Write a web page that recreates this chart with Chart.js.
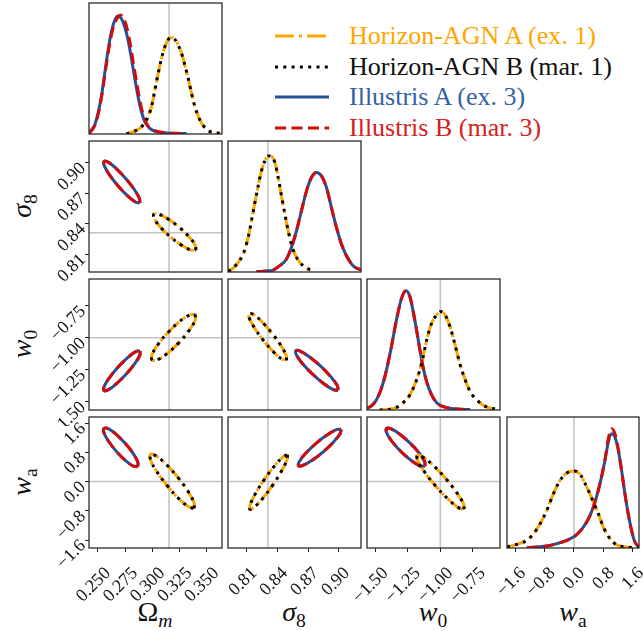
<!DOCTYPE html>
<html>
<head>
<meta charset="utf-8">
<title>Corner plot</title>
<script src="https://cdn.jsdelivr.net/npm/chart.js@4.4.1/dist/chart.umd.min.js"></script>
<style>
  html, body { margin: 0; padding: 0; background: #fff; }
  #wrap { position: relative; width: 643px; height: 631px; overflow: hidden; font-family: "Liberation Serif", "DejaVu Serif", serif; color: #111; }
  #wrap canvas { position: absolute; }
  .xtitle, .ytitle { position: absolute; width: 120px; height: 28px; text-align: center; font-size: 28px; line-height: 28px; }
  .ytitle { transform: rotate(-90deg); }
  sub { font-size: 70%; vertical-align: baseline; position: relative; top: 0.3em; }
  .leg { position: absolute; left: 273px; width: 370px; height: 30px; line-height: 30px; font-size: 26px; white-space: nowrap; }
  .leg svg { position: absolute; left: 0; top: 0; }
  .leg span { position: absolute; left: 76px; top: 0; }
</style>
</head>
<body>
<div id="wrap">
  <div class="leg" style="top:21px"><svg width="60" height="30"><line x1="2" y1="15" x2="56" y2="15" stroke="#ffa500" stroke-width="3" stroke-dasharray="19 5 3 5"/></svg><span style="color:#ffa500">Horizon-AGN A (ex. 1)</span></div>
  <div class="leg" style="top:52px"><svg width="60" height="30"><line x1="2" y1="15" x2="56" y2="15" stroke="#000" stroke-width="3" stroke-dasharray="3 5.3"/></svg><span style="color:#111">Horizon-AGN B (mar. 1)</span></div>
  <div class="leg" style="top:82px"><svg width="60" height="30"><line x1="2" y1="15" x2="56" y2="15" stroke="#24509a" stroke-width="3"/></svg><span style="color:#3461a6">Illustris A (ex. 3)</span></div>
  <div class="leg" style="top:113px"><svg width="60" height="30"><line x1="2" y1="15" x2="56" y2="15" stroke="#d00d0d" stroke-width="3" stroke-dasharray="11 5.5"/></svg><span style="color:#d42020">Illustris B (mar. 3)</span></div>

  <div class="xtitle" style="left:95px; top:598px">Ω<sub><i>m</i></sub></div>
  <div class="xtitle" style="left:234px; top:598px"><i>σ</i><sub>8</sub></div>
  <div class="xtitle" style="left:373px; top:598px"><i>w</i><sub>0</sub></div>
  <div class="xtitle" style="left:513px; top:598px"><i>w</i><sub>a</sub></div>

  <div class="ytitle" style="left:-38px; top:192px"><i>σ</i><sub>8</sub></div>
  <div class="ytitle" style="left:-38px; top:330px"><i>w</i><sub>0</sub></div>
  <div class="ytitle" style="left:-38px; top:468px"><i>w</i><sub>a</sub></div>
</div>
<script>
// axis limits and truth values
const omegaRange = [0.2417, 0.3645];
const sigma8Range = [0.7923, 0.9214];
const w0Range = [-1.565, -0.54];
const waRange = [-1.818, 1.765];

const omegaTruth = 0.3156;
const sigma8Truth = 0.831;
const w0Truth = -1.0;
const waTruth = 0.0;

// ticks
const omegaTicks = [0.250, 0.275, 0.300, 0.325, 0.350];
const omegaLabels = ['0.250', '0.275', '0.300', '0.325', '0.350'];
const sigma8Ticks = [0.81, 0.84, 0.87, 0.90];
const sigma8Labels = ['0.81', '0.84', '0.87', '0.90'];
const w0Ticks = [-1.50, -1.25, -1.00, -0.75];
const w0Labels = ['\u22121.50', '\u22121.25', '\u22121.00', '\u22120.75'];
const waTicks = [-1.6, -0.8, 0.0, 0.8, 1.6];
const waLabels = ['\u22121.6', '\u22120.8', '0.0', '0.8', '1.6'];

// 1D marginals [x, density (scaled)]
const omega1DHzn = [[0.2763,0.000],[0.2824,0.018],[0.2886,0.043],[0.2948,0.107],[0.2994,0.208],[0.3025,0.335],[0.3056,0.462],[0.3086,0.576],[0.3117,0.665],[0.3148,0.721],[0.3179,0.736],[0.3210,0.721],[0.3241,0.678],[0.3272,0.614],[0.3302,0.525],[0.3333,0.424],[0.3364,0.310],[0.3395,0.208],[0.3441,0.107],[0.3487,0.048],[0.3534,0.018],[0.3626,0.005]];
const omega1DIll = [[0.2417,0.010],[0.2469,0.069],[0.2500,0.157],[0.2531,0.284],[0.2562,0.462],[0.2593,0.640],[0.2624,0.779],[0.2655,0.868],[0.2685,0.901],[0.2716,0.881],[0.2747,0.817],[0.2778,0.716],[0.2809,0.576],[0.2840,0.424],[0.2870,0.284],[0.2901,0.170],[0.2932,0.094],[0.2978,0.043],[0.3040,0.018],[0.3133,0.008],[0.3318,0.003]];
const omega1DIllB = [[0.2417,0.005],[0.2469,0.061],[0.2500,0.145],[0.2531,0.272],[0.2562,0.442],[0.2593,0.614],[0.2624,0.754],[0.2655,0.848],[0.2685,0.893],[0.2707,0.909],[0.2738,0.881],[0.2769,0.805],[0.2800,0.678],[0.2830,0.525],[0.2861,0.373],[0.2892,0.234],[0.2923,0.132],[0.2963,0.061],[0.3025,0.025],[0.3133,0.010],[0.3272,0.003]];

const sigma1DHzn = [[0.7925,0.005],[0.7973,0.030],[0.8022,0.074],[0.8070,0.137],[0.8119,0.264],[0.8151,0.391],[0.8184,0.530],[0.8216,0.657],[0.8248,0.772],[0.8281,0.848],[0.8313,0.886],[0.8345,0.883],[0.8378,0.835],[0.8410,0.721],[0.8442,0.581],[0.8475,0.442],[0.8507,0.315],[0.8539,0.213],[0.8572,0.137],[0.8620,0.074],[0.8685,0.030],[0.8749,0.010]];
const sigma1DIll = [[0.8200,0.003],[0.8297,0.008],[0.8361,0.015],[0.8426,0.048],[0.8491,0.099],[0.8539,0.188],[0.8588,0.315],[0.8636,0.467],[0.8685,0.619],[0.8733,0.721],[0.8782,0.759],[0.8830,0.734],[0.8879,0.645],[0.8927,0.492],[0.8976,0.340],[0.9024,0.213],[0.9073,0.124],[0.9137,0.048],[0.9215,0.015]];

const w01DHzn = [[-1.467,0.000],[-1.389,0.005],[-1.338,0.020],[-1.286,0.056],[-1.235,0.115],[-1.183,0.229],[-1.144,0.356],[-1.105,0.534],[-1.067,0.662],[-1.028,0.725],[-0.997,0.751],[-0.963,0.725],[-0.925,0.636],[-0.886,0.496],[-0.847,0.344],[-0.808,0.229],[-0.770,0.140],[-0.731,0.089],[-0.679,0.043],[-0.628,0.018],[-0.540,0.005]];
const w01DIll = [[-1.565,0.013],[-1.531,0.031],[-1.493,0.076],[-1.454,0.165],[-1.415,0.305],[-1.377,0.483],[-1.338,0.687],[-1.299,0.852],[-1.265,0.911],[-1.234,0.865],[-1.209,0.751],[-1.183,0.611],[-1.157,0.458],[-1.131,0.318],[-1.105,0.216],[-1.067,0.115],[-1.028,0.056],[-0.976,0.025],[-0.899,0.010],[-0.770,0.003]];

const wa1DHzn = [[-1.818,0.008],[-1.548,0.028],[-1.277,0.059],[-1.097,0.109],[-0.916,0.186],[-0.736,0.288],[-0.556,0.415],[-0.376,0.517],[-0.195,0.573],[0.012,0.588],[0.165,0.562],[0.346,0.466],[0.526,0.351],[0.661,0.262],[0.796,0.160],[0.977,0.071],[1.157,0.025],[1.427,0.008],[1.770,0.000]];
const wa1DIll = [[-1.277,0.003],[-1.007,0.008],[-0.736,0.015],[-0.466,0.033],[-0.195,0.059],[0.075,0.102],[0.346,0.198],[0.526,0.313],[0.706,0.491],[0.841,0.669],[0.932,0.809],[1.022,0.873],[1.112,0.847],[1.202,0.746],[1.292,0.593],[1.382,0.415],[1.472,0.262],[1.563,0.135],[1.653,0.046],[1.770,0.008]];
const wa1DIllB = [[-1.277,0.003],[-1.007,0.008],[-0.736,0.015],[-0.466,0.033],[-0.195,0.059],[0.075,0.102],[0.346,0.198],[0.526,0.313],[0.706,0.491],[0.841,0.675],[0.932,0.835],[1.022,0.911],[1.112,0.873],[1.202,0.758],[1.292,0.593],[1.382,0.415],[1.472,0.262],[1.563,0.135],[1.653,0.046],[1.770,0.008]];

// 2D contours [x, y], closed loops
const omSigHzn = [[0.3404,0.8139],[0.3398,0.8187],[0.3341,0.8269],[0.3249,0.8364],[0.3147,0.8445],[0.3061,0.8492],[0.3015,0.8492],[0.3022,0.8444],[0.3079,0.8362],[0.3171,0.8267],[0.3273,0.8186],[0.3359,0.8139],[0.3404,0.8139]];
const omSigIll = [[0.2886,0.8602],[0.2883,0.8647],[0.2836,0.8734],[0.2758,0.8842],[0.2671,0.8940],[0.2597,0.9003],[0.2556,0.9013],[0.2559,0.8969],[0.2606,0.8881],[0.2684,0.8774],[0.2771,0.8676],[0.2845,0.8613],[0.2886,0.8602]];
const omW0Hzn = [[0.3398,-0.817],[0.3397,-0.862],[0.3343,-0.941],[0.3250,-1.036],[0.3144,-1.120],[0.3052,-1.171],[0.3000,-1.174],[0.3001,-1.130],[0.3055,-1.051],[0.3149,-0.956],[0.3254,-0.872],[0.3346,-0.821],[0.3398,-0.817]];
const omW0Ill = [[0.2889,-1.102],[0.2886,-1.137],[0.2838,-1.204],[0.2759,-1.286],[0.2671,-1.359],[0.2597,-1.406],[0.2556,-1.413],[0.2559,-1.378],[0.2607,-1.311],[0.2686,-1.229],[0.2774,-1.155],[0.2848,-1.108],[0.2889,-1.102]];
const omWaHzn = [[0.3389,-0.733],[0.3386,-0.576],[0.3331,-0.265],[0.3236,0.119],[0.3129,0.473],[0.3036,0.702],[0.2985,0.742],[0.2987,0.585],[0.3043,0.273],[0.3138,-0.110],[0.3245,-0.464],[0.3337,-0.692],[0.3389,-0.733]];
const omWaIll = [[0.2867,0.407],[0.2868,0.530],[0.2826,0.762],[0.2753,1.038],[0.2670,1.286],[0.2598,1.439],[0.2556,1.456],[0.2555,1.332],[0.2598,1.102],[0.2670,0.825],[0.2753,0.577],[0.2825,0.424],[0.2867,0.407]];
const sigW0Hzn = [[0.8491,-1.177],[0.8488,-1.139],[0.8437,-1.061],[0.8352,-0.967],[0.8256,-0.878],[0.8175,-0.820],[0.8129,-0.810],[0.8131,-0.848],[0.8182,-0.925],[0.8267,-1.021],[0.8363,-1.109],[0.8445,-1.166],[0.8491,-1.177]];
const sigW0Ill = [[0.8992,-1.410],[0.8983,-1.373],[0.8922,-1.306],[0.8825,-1.224],[0.8717,-1.152],[0.8628,-1.106],[0.8581,-1.102],[0.8590,-1.139],[0.8651,-1.207],[0.8749,-1.288],[0.8856,-1.361],[0.8945,-1.406],[0.8992,-1.410]];
const sigWaHzn = [[0.8500,0.733],[0.8496,0.594],[0.8444,0.294],[0.8359,-0.089],[0.8262,-0.453],[0.8180,-0.697],[0.8135,-0.760],[0.8140,-0.621],[0.8191,-0.321],[0.8277,0.062],[0.8374,0.426],[0.8456,0.670],[0.8500,0.733]];
const sigWaIll = [[0.9021,1.429],[0.9011,1.306],[0.8948,1.083],[0.8850,0.818],[0.8741,0.585],[0.8652,0.445],[0.8607,0.434],[0.8618,0.558],[0.8680,0.781],[0.8778,1.046],[0.8887,1.278],[0.8976,1.419],[0.9021,1.429]];
const w0WaHzn = [[-0.816,-0.760],[-0.822,-0.606],[-0.875,-0.295],[-0.960,0.089],[-1.056,0.443],[-1.135,0.672],[-1.178,0.715],[-1.172,0.561],[-1.119,0.250],[-1.033,-0.134],[-0.938,-0.488],[-0.859,-0.717],[-0.816,-0.760]];
const w0WaIll = [[-1.118,0.416],[-1.121,0.545],[-1.163,0.779],[-1.233,1.051],[-1.312,1.294],[-1.378,1.439],[-1.415,1.447],[-1.412,1.318],[-1.370,1.085],[-1.301,0.812],[-1.222,0.569],[-1.155,0.425],[-1.118,0.416]];

const params = {
    om: { range: omegaRange, truth: omegaTruth, ticks: omegaTicks, labels: omegaLabels, offset: 10 },
    s8: { range: sigma8Range, truth: sigma8Truth, ticks: sigma8Ticks, labels: sigma8Labels, offset: 8 },
    w0: { range: w0Range, truth: w0Truth, ticks: w0Ticks, labels: w0Labels, offset: 10 },
    wa: { range: waRange, truth: waTruth, ticks: waTicks, labels: waLabels, offset: 8 }
};

const panels = [
    { row: 0, col: 0, x: 'om', hzn: omega1DHzn, ill: omega1DIll, illB: omega1DIllB },
    { row: 1, col: 0, x: 'om', y: 's8', hzn: omSigHzn, ill: omSigIll },
    { row: 1, col: 1, x: 's8', hzn: sigma1DHzn, ill: sigma1DIll },
    { row: 2, col: 0, x: 'om', y: 'w0', hzn: omW0Hzn, ill: omW0Ill },
    { row: 2, col: 1, x: 's8', y: 'w0', hzn: sigW0Hzn, ill: sigW0Ill },
    { row: 2, col: 2, x: 'w0', hzn: w01DHzn, ill: w01DIll },
    { row: 3, col: 0, x: 'om', y: 'wa', hzn: omWaHzn, ill: omWaIll },
    { row: 3, col: 1, x: 's8', y: 'wa', hzn: sigWaHzn, ill: sigWaIll },
    { row: 3, col: 2, x: 'w0', y: 'wa', hzn: w0WaHzn, ill: w0WaIll },
    { row: 3, col: 3, x: 'wa', hzn: wa1DHzn, ill: wa1DIll, illB: wa1DIllB }
];

// line styles, lower order = drawn on top
const hznA = { color: '#ffa500', dash: [19, 5, 3, 5], order: 3 };
const hznB = { color: '#000000', dash: [3, 5.3], order: 1 };
const illA = { color: '#24509a', dash: [], order: 4 };
const illB = { color: '#d00d0d', dash: [11, 5.5], order: 2 };

const colLeft = [89, 228, 367, 507];
const colWidth = [133, 133, 133, 132];
const rowTop = [3, 141, 279, 417];
const panelH = 131;
const tickFont = { family: '"Liberation Serif", serif', size: 18 };

const framePlugin = {
    id: 'frame',
    afterDraw: function (chart) {
        const a = chart.chartArea, ctx = chart.ctx;
        ctx.save();
        ctx.strokeStyle = '#2b2b2b';
        ctx.lineWidth = 1.3;
        ctx.strokeRect(a.left, a.top, a.right - a.left, a.bottom - a.top);
        ctx.restore();
    }
};

function curve(points, style, is1D) {
    return {
        data: points.map(function (p) { return { x: p[0], y: p[1] }; }),
        showLine: true,
        pointRadius: 0,
        borderColor: style.color,
        borderWidth: 3,
        borderDash: style.dash,
        fill: false,
        tension: is1D ? 0 : 0.4,
        cubicInterpolationMode: is1D ? 'monotone' : 'default',
        order: style.order
    };
}

function truthLine(pts) {
    return { data: pts, showLine: true, pointRadius: 0, borderColor: '#c4c4c4', borderWidth: 1.6, order: 10 };
}

function axis(p, show, size, horizontal) {
    return {
        type: 'linear',
        min: p.range[0],
        max: p.range[1],
        display: show,
        afterBuildTicks: function (s) { s.ticks = p.ticks.map(function (v) { return { value: v }; }); },
        afterFit: function (s) {
            if (show) {
                if (horizontal) s.height = size; else s.width = size;
            }
            s.paddingLeft = 0; s.paddingRight = 0; s.paddingTop = 0; s.paddingBottom = 0;
        },
        grid: { drawOnChartArea: false, drawTicks: true, tickLength: 4, color: '#222', lineWidth: 1 },
        border: { display: false },
        ticks: {
            autoSkip: false,
            minRotation: 45,
            maxRotation: 45,
            padding: horizontal ? 11 : 2,
            labelOffset: horizontal ? p.offset : 3,
            font: tickFont,
            color: '#111',
            callback: function (v, i) { return p.labels[i]; }
        }
    };
}

function drawPanel(pn) {
    const wrap = document.getElementById('wrap');
    const px = params[pn.x], py = pn.y ? params[pn.y] : null;
    const hasX = pn.row === 3, hasY = pn.col === 0 && py !== null;
    const extL = pn.col === 0 ? 89 : 22, extT = 3, extR = 4, extB = hasX ? 83 : 16;
    const w = colWidth[pn.col];

    const canvas = document.createElement('canvas');
    canvas.width = w + extL + extR;
    canvas.height = panelH + extT + extB;
    canvas.style.left = (colLeft[pn.col] - extL) + 'px';
    canvas.style.top = (rowTop[pn.row] - extT) + 'px';
    wrap.appendChild(canvas);

    const is1D = py === null;
    const datasets = [];
    datasets.push(curve(pn.hzn, hznB, is1D));
    datasets.push(curve(pn.illB || pn.ill, illB, is1D));
    datasets.push(curve(pn.hzn, hznA, is1D));
    datasets.push(curve(pn.ill, illA, is1D));

    let yScale;
    if (is1D) {
        yScale = { type: 'linear', min: 0, max: 1, display: false };
        datasets.push(truthLine([{ x: px.truth, y: 0 }, { x: px.truth, y: 1 }]));
    } else {
        yScale = axis(py, hasY, extL, false);
        datasets.push(truthLine([{ x: px.truth, y: py.range[0] }, { x: px.truth, y: py.range[1] }]));
        datasets.push(truthLine([{ x: px.range[0], y: py.truth }, { x: px.range[1], y: py.truth }]));
    }

    new Chart(canvas.getContext('2d'), {
        type: 'scatter',
        data: { datasets: datasets },
        options: {
            responsive: false,
            animation: false,
            events: [],
            layout: {
                autoPadding: false,
                padding: { left: hasY ? 0 : extL, top: extT, right: extR, bottom: hasX ? 0 : extB }
            },
            scales: {
                x: axis(px, hasX, extB, true),
                y: yScale
            },
            plugins: { legend: { display: false }, tooltip: { enabled: false } }
        },
        plugins: [framePlugin]
    });
}

panels.forEach(drawPanel);
</script>
</body>
</html>
